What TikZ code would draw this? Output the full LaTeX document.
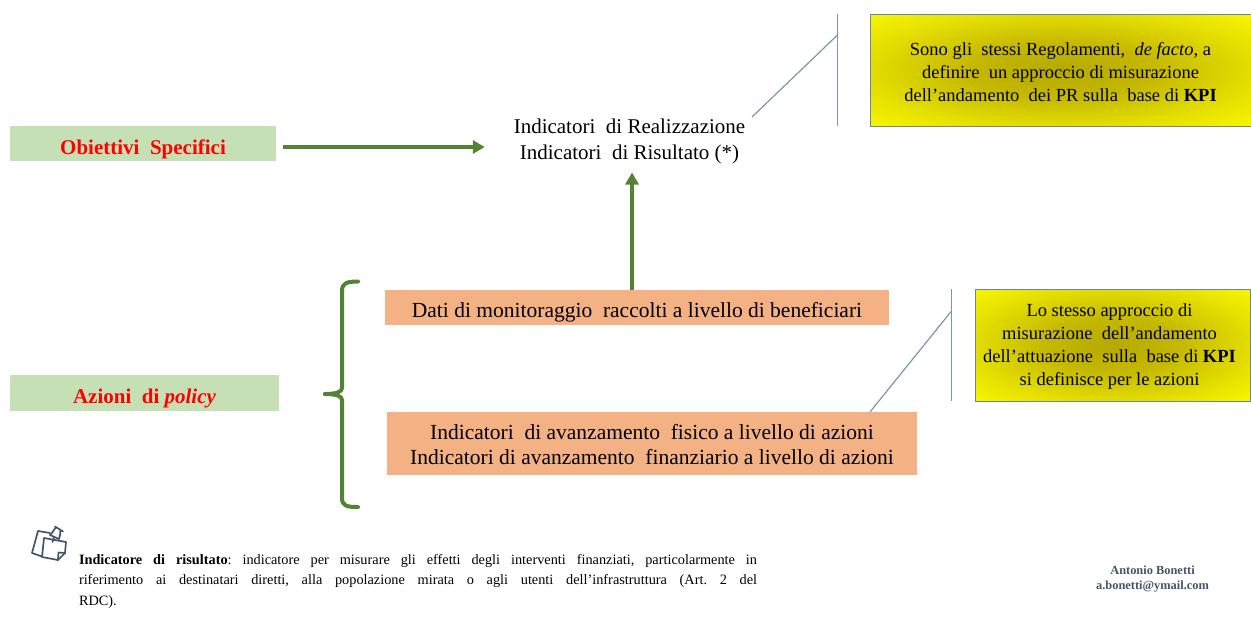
\documentclass[tikz,border=0pt]{standalone}
\usepackage{fontspec}
\setmainfont{Liberation Serif}
\usetikzlibrary{arrows.meta}
\definecolor{gbox}{HTML}{C5E0B4}
\definecolor{obox}{HTML}{F4B183}
\definecolor{garrow}{HTML}{548235}
\definecolor{bluel}{HTML}{7F93B5}
\definecolor{edgeb}{HTML}{6C83A8}
\definecolor{slate}{HTML}{44546A}
\definecolor{ya}{HTML}{B5A900}
\definecolor{yb}{HTML}{C4B800}
\definecolor{yc}{HTML}{E6E000}
\pgfdeclareradialshading{ylw}{\pgfpoint{0bp}{0bp}}{color(0bp)=(ya); color(12bp)=(yb); color(26bp)=(yc); color(39bp)=(yellow); color(100bp)=(yellow)}
\newcommand{\lowered}[2]{\raisebox{-#1}[\height][\depth]{\begin{tabular}{@{}c@{}}#2\end{tabular}}}
\tikzset{
 pagebox/.style={draw=none,inner sep=0pt,outer sep=0pt,anchor=north west},
 greenbox/.style={pagebox,fill=gbox,font=\fontsize{21}{25}\selectfont\bfseries,text=red,align=center},
 orangebox/.style={pagebox,fill=obox,font=\fontsize{21.5}{25}\selectfont,align=center},
 yellowbox/.style={pagebox,draw=edgeb,line width=1pt,shading=ylw,font=\fontsize{18.5}{23}\selectfont,align=center},
 flow/.style={-{Triangle[length=12pt,width=13pt]},draw=garrow,line width=3.8pt},
 thincallout/.style={draw=bluel,line width=1.2pt},
 bracket/.style={draw=garrow,line width=4pt,line cap=round},
}
\begin{document}
\begin{tikzpicture}[x=1pt,y=-1pt]
\useasboundingbox (0,0) rectangle (1251,619);
\node[greenbox,minimum width=266pt,minimum height=35pt] (obiettivi) at (10,126) {\lowered{5.5pt}{Obiettivi\ \ Specifici}};
\node[greenbox,minimum width=269pt,minimum height=36pt] (azioni) at (10,375) {\lowered{5pt}{Azioni\ \ di \textit{policy}}};
\node[pagebox,anchor=center,font=\fontsize{21}{26}\selectfont,align=center] (indicatori) at (629.5,139.5) {\lowered{2pt}{Indicatori\ \ di Realizzazione\\Indicatori\ \ di Risultato (*)}};
\node[orangebox,minimum width=504pt,minimum height=35pt] (dati) at (385,290) {\lowered{4.75pt}{Dati di monitoraggio\ \ raccolti a livello di beneficiari}};
\node[orangebox,minimum width=530pt,minimum height=63pt] (avanz) at (387,412) {\lowered{3.5pt}{Indicatori\ \ di avanzamento\ \ fisico a livello di azioni\\Indicatori di avanzamento\ \ finanziario a livello di azioni}};
\node[yellowbox,minimum width=381pt,minimum height=112pt] (kpia) at (870,14) {\lowered{4pt}{Sono gli\ \ stessi Regolamenti,\ \ \textit{de facto}, a\\definire\ \ un approccio di misurazione\\dell’andamento\ \ dei PR sulla\ \ base di \textbf{KPI}}};
\node[yellowbox,minimum width=275pt,minimum height=112pt] (kpib) at (975,289) {\hspace*{-6pt}\lowered{1.75pt}{Lo stesso approccio di\\misurazione\ \ dell’andamento\\dell’attuazione\ \ sulla\ \ base di \textbf{KPI}\\si definisce per le azioni}};

\draw[flow] ([shift={(7,3.5)}]obiettivi.east) -- ([shift={(-29,7.5)}]indicatori.west);
\draw[flow] ([xshift=-5pt]dati.north) -- ([shift={(2.5,7)}]indicatori.south);

% callouts
\draw[thincallout] ([xshift=-32.5pt]kpia.north west) -- ([xshift=-32.5pt]kpia.south west);
\coordinate (c1m) at ([shift={(-32.5,21)}]kpia.north west);
\coordinate (c1s) at (752,117);
\draw[thincallout] (c1m) -- (c1s);
\draw[thincallout] ([xshift=-23.5pt]kpib.north west) -- ([xshift=-23.5pt]kpib.south west);
\coordinate (c2m) at ([shift={(-23.5,22)}]kpib.north west);
\draw[thincallout] (c2m) -- ([xshift=-47pt]avanz.north east);

% brace
\coordinate (btip) at (325,394);
\draw[bracket] (358,281.5) .. controls (347,281.5) and (342,283) .. (342,291) -- (342,388) .. controls (342,392) and (336,394) .. (btip);
\draw[bracket] (358,507) .. controls (347,507) and (342,506) .. (342,498) -- (342,400) .. controls (342,396) and (336,394) .. (btip);

% icon
\begin{scope}[draw=slate,line width=1.7pt,line join=round,line cap=round]
\draw (42,556.5) -- (32,553) -- (38,531) -- (50,533);
\draw (44,538) -- (66,542) -- (65,553) -- (58,560) -- (42,557) -- (44,538);
\draw (65,553) -- (58.5,552.5) -- (58,560);
\draw (55,526.5) -- (63,531.5) (56,527) -- (52,533) -- (50,535) -- (59,539) -- (60,535) -- (60.5,530) (54,537) -- (52.5,542);
\end{scope}

\node[pagebox,text width=678pt,font=\frenchspacing\fontsize{14.3}{20.5}\selectfont,align=justify] (nota) at (79,554) {\textbf{Indicatore di risultato}: indicatore per misurare gli effetti degli interventi finanziati, particolarmente in\linebreak riferimento ai destinatari diretti, alla popolazione mirata o agli utenti dell’infrastruttura (Art. 2 del\linebreak RDC).};
\node[pagebox,anchor=center,font=\fontsize{12.4}{15}\selectfont\bfseries,text=slate,align=center] (autore) at (1152.5,579.5) {Antonio Bonetti\\a.bonetti@ymail.com};
\end{tikzpicture}
\end{document}
